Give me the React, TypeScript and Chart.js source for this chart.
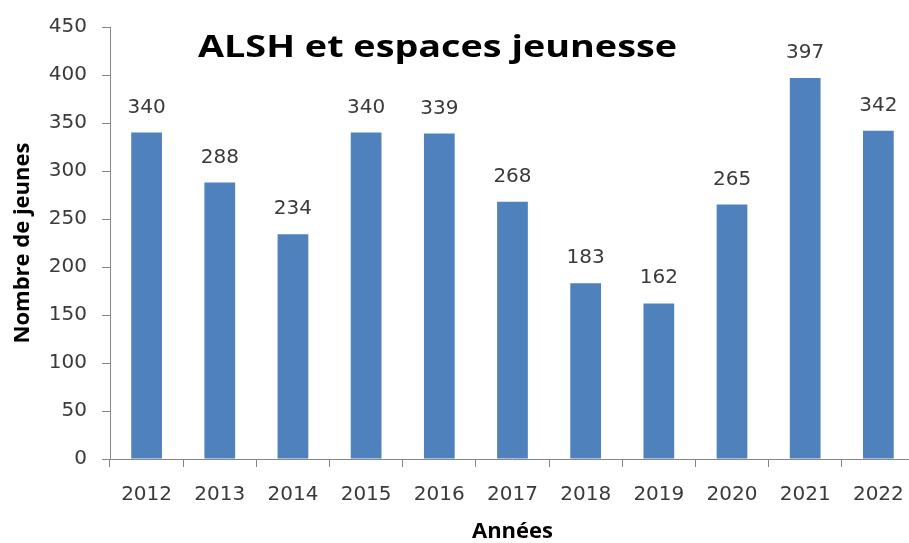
import React, { useEffect, useRef } from 'react';
import { Chart, registerables } from 'chart.js';

Chart.register(...registerables);

const categories: string[] = ['2012', '2013', '2014', '2015', '2016', '2017', '2018', '2019', '2020', '2021', '2022'];
const values: number[] = [340, 288, 234, 340, 339, 268, 183, 162, 265, 397, 342];
const yMin = 0;
const yMax = 450;
const yStep = 50;
const chartTitle = 'ALSH et espaces jeunesse';
const xTitle = 'Années';
const yTitle = 'Nombre de jeunes';

const barColor = '#4F81BD';
const axisColor = '#868686';
const textColor = '#3a3a3a';
const digitFont = { family: '"DejaVu Sans", sans-serif', size: 20 };

export default function App() {
  const ref = useRef<HTMLCanvasElement | null>(null);

  useEffect(() => {
    const canvas = ref.current;
    if (!canvas) return;

    const titlePlugin = {
      id: 'bigTitle',
      afterDraw(chart: any) {
        const ctx = chart.ctx;
        ctx.save();
        ctx.font = 'bold 31px "Open Sans", sans-serif';
        ctx.fillStyle = '#000000';
        ctx.textAlign = 'center';
        ctx.textBaseline = 'alphabetic';
        const w = ctx.measureText(chartTitle).width;
        const s = 479 / w;
        ctx.translate(437.5, 57);
        ctx.scale(s, 1);
        ctx.fillText(chartTitle, 0, 0);
        ctx.restore();
      },
    };

    const labelPlugin = {
      id: 'barLabels',
      afterDatasetsDraw(chart: any) {
        const ctx = chart.ctx;
        const meta = chart.getDatasetMeta(0);
        ctx.save();
        ctx.font = `${digitFont.size}px ${digitFont.family}`;
        ctx.fillStyle = textColor;
        ctx.textAlign = 'center';
        ctx.textBaseline = 'alphabetic';
        meta.data.forEach((bar: any, i: number) => {
          ctx.fillText(String(values[i]), bar.x, bar.y - 20);
        });
        ctx.restore();
      },
    };

    const chart = new Chart(canvas, {
      type: 'bar',
      data: {
        labels: categories,
        datasets: [
          {
            label: yTitle,
            data: values,
            backgroundColor: barColor,
            borderWidth: 0,
            barPercentage: 0.42,
            categoryPercentage: 1.0,
          },
        ],
      },
      options: {
        responsive: false,
        animation: false,
        layout: { padding: { top: 27, right: 4, left: 0, bottom: 0 } },
        plugins: {
          legend: { display: false },
          tooltip: { enabled: false },
          title: { display: false },
        },
        scales: {
          x: {
            grid: {
              display: true,
              drawOnChartArea: false,
              drawTicks: true,
              tickLength: 8,
              color: axisColor,
              offset: true,
            },
            border: { color: axisColor, width: 1 },
            ticks: { font: digitFont, color: textColor, padding: 16, maxRotation: 0, autoSkip: false },
            title: {
              display: true,
              text: xTitle,
              color: '#000000',
              font: { family: '"Open Sans", sans-serif', size: 22, weight: 'bold', lineHeight: 1 },
              padding: { top: 0, bottom: 0 },
            },
            afterFit: (s: any) => {
              s.height = 84;
            },
          },
          y: {
            min: yMin,
            max: yMax,
            ticks: { stepSize: yStep, font: digitFont, color: textColor, padding: 15 },
            grid: {
              display: true,
              drawOnChartArea: false,
              drawTicks: true,
              tickLength: 8,
              color: axisColor,
            },
            border: { color: axisColor, width: 1 },
            title: {
              display: true,
              text: yTitle,
              color: '#000000',
              font: { family: '"Open Sans", sans-serif', size: 22, weight: 'bold', lineHeight: 1 },
              padding: { top: 12, bottom: 0 },
            },
            afterFit: (s: any) => {
              s.width = 110;
            },
          },
        },
      },
      plugins: [titlePlugin, labelPlugin],
    } as any);

    return () => {
      chart.destroy();
    };
  }, []);

  return (
    <div
      style={{
        position: 'fixed',
        left: 0,
        top: 0,
        width: 909,
        height: 543,
        overflow: 'hidden',
        background: '#ffffff',
      }}
    >
      <canvas ref={ref} width={920} height={543} style={{ display: 'block' }} />
    </div>
  );
}
